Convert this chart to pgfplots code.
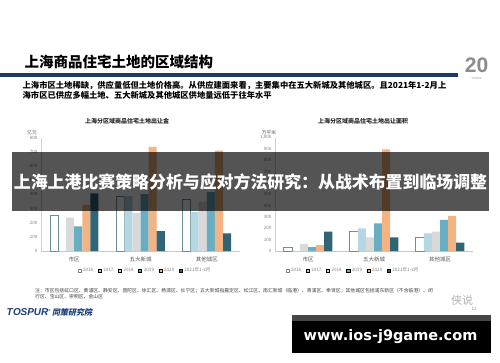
\documentclass[border=0pt]{standalone}
\usepackage{pgfplots}
\pgfplotsset{compat=1.18}
\usepackage{fontspec}
\setmainfont{Noto Sans CJK SC}
\newfontfamily\dejavu{DejaVu Sans}
\newfontfamily\libsans{Liberation Sans}
\newfontfamily\cjkit{Noto Sans CJK SC}[FakeSlant=0.2]
\definecolor{c16e}{HTML}{6E8E98}
\definecolor{c17}{HTML}{B5D7E2}
\definecolor{c18}{HTML}{D9D9D9}
\definecolor{c19}{HTML}{68ADC2}
\definecolor{c20}{HTML}{F3B382}
\definecolor{c21}{HTML}{2F6575}
\definecolor{navy}{HTML}{1F3A60}
\definecolor{logoblue}{HTML}{1B3C7A}
\definecolor{tickc}{HTML}{808080}
\definecolor{labc}{HTML}{595959}
\pgfplotsset{
  mybar/.style={
    ybar=0pt, bar width=8.1pt, scale only axis, height=113.3pt,
    xmin=-0.5, xmax=2.5, ymin=0,
    xtick={0,1,2}, xticklabels={市区,五大新城,其他城区},
    axis x line=bottom, axis y line=left,
    axis line style={draw=black!18, -},
    x axis line style={draw=black!22},
    major tick length=0pt,
    /pgf/number format/assume math mode=true,
    y tick label style={font=\fontsize{4.5}{5}\selectfont, text=tickc},
    x tick label style={font=\fontsize{5.5}{6}\selectfont, text=labc, yshift=-2.5pt},
    legend columns=6,
    legend style={draw=none, fill=none, font=\fontsize{4.6}{5}\selectfont, text=tickc,
      at={(0.5,0)}, anchor=center, yshift=-19.7pt,
      /tikz/every even column/.append style={column sep=2.5pt}},
    legend image code/.code={\draw[##1,line width=0.35pt] (0pt,-1.6pt) rectangle (3.2pt,1.6pt);},
    legend cell align=left,
    clip=false,
  },
  s16/.style={fill=white, draw=c16e, line width=0.5pt},
  s17/.style={fill=c17, draw=none},
  s18/.style={fill=c18, draw=none},
  s19/.style={fill=c19, draw=none},
  s20/.style={fill=c20, draw=none},
  s21/.style={fill=c21, draw=none},
}
\begin{document}
\begin{tikzpicture}[x=1pt,y=-1pt]
\path[use as bounding box, fill=white] (0,0) rectangle (500,362);
% header
\node[anchor=west, font=\fontsize{14.5}{15}\selectfont\bfseries] at (21,61.5) {上海商品住宅土地的区域结构};
\fill[navy] (0,73) rectangle (458,77);
\node[anchor=north west, align=left, inner sep=0pt, font=\fontsize{8.3}{9.4}\selectfont\bfseries] at (22.5,81.2)
 {上海市区土地稀缺，供应量低但土地价格高。从供应建面来看，主要集中在五大新城及其他城区。且2021年1-2月上\\海市区已供应多幅土地、五大新城及其他城区供地量远低于往年水平};
\node[font=\libsans\fontsize{21}{22}\selectfont\bfseries, text=black!45] at (476.5,65) {20};
\node[font=\libsans\fontsize{3}{3}\selectfont, text=black!40] at (476.5,78.5) {YEARS};
% chart titles
\node[font=\fontsize{6}{7}\selectfont\bfseries, text=black!85] at (127,121) {上海分区域商品住宅土地出让金};
\node[font=\fontsize{6}{7}\selectfont\bfseries, text=black!85] at (363,121) {上海分区域商品住宅土地出让面积};
\node[font=\fontsize{4.8}{5}\selectfont, text=labc] at (32,132.7) {亿元};
\node[font=\fontsize{4.8}{5}\selectfont, text=labc] at (269,132.7) {万平米};
% left chart
\begin{axis}[mybar, at={(41pt,-251pt)}, anchor=south west, width=199pt,
  ymax=800, ytick={0,100,...,800}, legend style={xshift=4.5pt}]
\addplot[s16] coordinates {(0,249) (1,390) (2,367)};
\addplot[s17] coordinates {(0,0) (1,388) (2,275)};
\addplot[s18] coordinates {(0,235) (1,270) (2,348)};
\addplot[s19] coordinates {(0,174) (1,402) (2,415)};
\addplot[s20] coordinates {(0,325) (1,736) (2,708)};
\addplot[s21] coordinates {(0,407) (1,141) (2,125)};
\legend{2016,2017,2018,2019,2020,2021年1-2月}
\end{axis}
% right chart
\begin{axis}[mybar, at={(275pt,-251pt)}, anchor=south west, width=198pt,
  ymax=1000, ytick={0,100,...,1000}, legend style={xshift=-21pt}]
\addplot[s16] coordinates {(0,35) (1,177) (2,121)};
\addplot[s17] coordinates {(0,0) (1,200) (2,156)};
\addplot[s18] coordinates {(0,62) (1,121) (2,170)};
\addplot[s19] coordinates {(0,35) (1,244) (2,274)};
\addplot[s20] coordinates {(0,53) (1,898) (2,309)};
\addplot[s21] coordinates {(0,170) (1,121) (2,73)};
\legend{2016,2017,2018,2019,2020,2021年1-2月}
\end{axis}
% footnote
\node[anchor=north west, align=left, inner sep=0pt, font=\fontsize{4.85}{6}\selectfont, text=black!75] at (35,288)
 {注：市区包括虹口区、黄浦区、静安区、普陀区、徐汇区、杨浦区、长宁区；五大新城指嘉定区、松江区、南汇新城（临港）、青浦区、奉贤区；其他城区包括浦东新区（不含临港）、闵\\行区、宝山区、崇明区、金山区};
\node[anchor=west, inner sep=0pt, text=logoblue] at (6.5,312.3)
 {\libsans\fontsize{10}{10}\selectfont\bfseries\itshape T\kern0.3pt O\kern-0.3pt SPUR\raisebox{3.5pt}{\fontsize{3}{3}\selectfont ®}\kern1.5pt\cjkit\fontsize{8}{8}\selectfont\bfseries 同策研究院};
\node[font=\fontsize{11}{11}\selectfont, text=black!30] at (462,300) {侠说};
\node[font=\fontsize{4.5}{5}\selectfont, text=black!45] at (474,309) {12};
% banner
\fill[black, opacity=0.67] (12,152) rectangle (489,211);
\node[font=\fontsize{16.9}{17}\selectfont\bfseries, text=white] at (250.5,181.7) {上海上港比赛策略分析与应对方法研究：从战术布置到临场调整};
% bottom box
\fill[black] (292,315) rectangle (491,353);
\fill[black!72] (292,315) rectangle (491,320.5);
\node[font=\dejavu\fontsize{14.5}{15}\selectfont\bfseries, text=white] at (390.5,337) {www.ios-j9game.com};
\end{tikzpicture}
\end{document}
